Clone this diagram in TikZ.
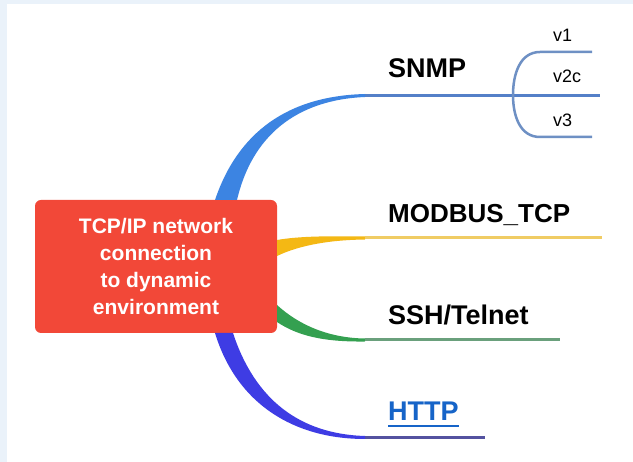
\documentclass[tikz,border=0pt]{standalone}
\usepackage{fontspec}
\setmainfont{Liberation Sans}
\definecolor{bgblue}{RGB}{234,242,250}
\definecolor{boxred}{RGB}{242,72,56}
\definecolor{snmpblue}{RGB}{60,132,226}
\definecolor{snmpline}{RGB}{84,128,200}
\definecolor{verline}{RGB}{110,144,196}
\definecolor{modyellow}{RGB}{244,184,20}
\definecolor{modline}{RGB}{240,204,100}
\definecolor{sshgreen}{RGB}{52,160,80}
\definecolor{sshline}{RGB}{106,160,124}
\definecolor{httpblue}{RGB}{62,60,228}
\definecolor{httpline}{RGB}{84,82,160}
\definecolor{linkblue}{RGB}{22,100,200}
\begin{document}
\begin{tikzpicture}[x=1pt,y=-1pt]
	\useasboundingbox (0,0) rectangle (633,462);
	\fill[bgblue] (0,0) rectangle (633,462);
	\fill[white] (7,4) rectangle (633,462);
	% centre box
	\node[fill=boxred, rounded corners=6pt, minimum width=242pt, minimum height=133pt, text=white, align=center, font=\bfseries\fontsize{21}{27}\selectfont] (root) at (156,266.5) {TCP/IP network\\connection\\to dynamic\\environment};
	% SNMP branch
	\fill[snmpblue] (215,200) .. controls (238,132) and (288,96) .. (365,94) -- (365,97) .. controls (296,100) and (252,136) .. (237,200) -- cycle;
	\draw[snmpline, line width=2.5pt] (365,95.5) -- (600,95.5);
	\draw[verline, line width=2.5pt] (592,52) -- (540,52) .. controls (520,52) and (513,74) .. (513,95) .. controls (513,116) and (520,137) .. (540,137) -- (592,137);
	\node[anchor=base west, inner sep=0pt, font=\bfseries\fontsize{27}{30}\selectfont] (snmp) at (388,78) {SNMP};
	\node[anchor=base west, inner sep=0pt, font=\fontsize{18}{20}\selectfont] (v1) at (553,42) {v1};
	\node[anchor=base west, inner sep=0pt, font=\fontsize{18}{20}\selectfont] (v2c) at (553,83) {v2c};
	\node[anchor=base west, inner sep=0pt, font=\fontsize{18}{20}\selectfont] (v3) at (553,127) {v3};
	% MODBUS branch
	\fill[modyellow] (277,240) .. controls (300,236) and (330,236) .. (365,236.5) -- (365,239.5) .. controls (330,240) and (300,245) .. (277,256) -- cycle;
	\draw[modline, line width=3pt] (365,238) -- (602,238);
	\node[anchor=base west, inner sep=0pt, font=\bfseries\fontsize{26}{30}\selectfont] (modbus) at (388,223) {MODBUS\_TCP};
	% SSH branch
	\fill[sshgreen] (277,305) .. controls (300,326) and (330,338) .. (365,338.5) -- (365,341.5) .. controls (324,342) and (298,336) .. (277,322) -- cycle;
	\draw[sshline, line width=3pt] (365,340) -- (560,340);
	\node[anchor=base west, inner sep=0pt, font=\bfseries\fontsize{27}{30}\selectfont] (ssh) at (388,325) {SSH/Telnet};
	% HTTP branch
	\fill[httpblue] (215,333) .. controls (237,405) and (295,439) .. (365,439) -- (365,436) .. controls (300,434) and (255,400) .. (233,333) -- cycle;
	\draw[httpline, line width=3pt] (365,437.5) -- (485,437.5);
	\node[anchor=base west, inner sep=0pt, text=linkblue, font=\bfseries\fontsize{27}{30}\selectfont] (http) at (388,421) {HTTP};
	\draw[linkblue, line width=2.5pt] ([yshift=-5pt]http.base west) -- ([yshift=-5pt]http.base east);
\end{tikzpicture}
\end{document}
